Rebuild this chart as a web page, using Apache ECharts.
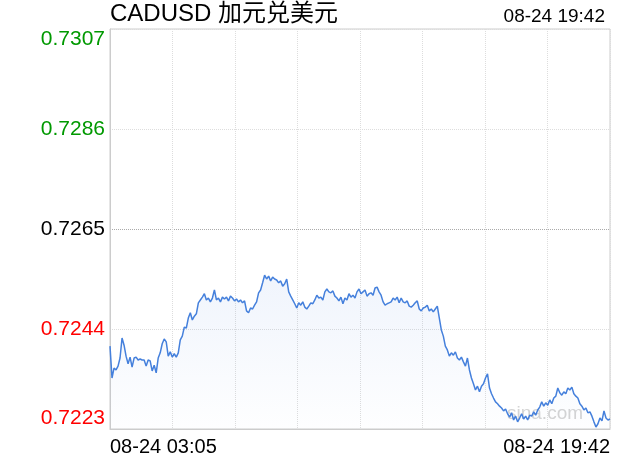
<!DOCTYPE html>
<html>
<head>
<meta charset="utf-8">
<script src="https://cdn.jsdelivr.net/npm/echarts@6/dist/echarts.min.js"></script>
<style>
  html, body { margin: 0; padding: 0; background: #fff; }
  #chart { width: 620px; height: 460px; }
</style>
</head>
<body>
<div id="chart"></div>
<script>
// ---- data ----
const titleText = 'CADUSD 加元兑美元';
const timeStamp = '08-24 19:42';
const xTickLabels = ['08-24 03:05', '08-24 19:42'];
const yTicks = [0.7223, 0.7244, 0.7265, 0.7286, 0.7307];
const prevClose = 0.7265;
const prices = [
  0.72404, 0.72337, 0.72358, 0.72354, 0.72362, 0.72379, 0.72421, 0.72406, 0.72383, 0.72367,
  0.72381, 0.72360, 0.72379, 0.72381, 0.72375, 0.72377, 0.72375, 0.72375, 0.72362, 0.72375,
  0.72373, 0.72352, 0.72364, 0.72348, 0.72379, 0.72390, 0.72409, 0.72419, 0.72413, 0.72383,
  0.72392, 0.72381, 0.72388, 0.72381, 0.72390, 0.72417, 0.72425, 0.72444, 0.72442, 0.72463,
  0.72474, 0.72459, 0.72467, 0.72472, 0.72495, 0.72501, 0.72507, 0.72514, 0.72501, 0.72505,
  0.72497, 0.72505, 0.72522, 0.72501, 0.72505, 0.72497, 0.72507, 0.72503, 0.72507, 0.72499,
  0.72509, 0.72505, 0.72499, 0.72503, 0.72497, 0.72501, 0.72495, 0.72499, 0.72478, 0.72474,
  0.72484, 0.72482, 0.72490, 0.72497, 0.72516, 0.72522, 0.72537, 0.72553, 0.72545, 0.72551,
  0.72541, 0.72549, 0.72545, 0.72543, 0.72537, 0.72541, 0.72530, 0.72535, 0.72545, 0.72518,
  0.72509, 0.72501, 0.72493, 0.72484, 0.72495, 0.72490, 0.72497, 0.72486, 0.72482, 0.72488,
  0.72495, 0.72493, 0.72501, 0.72511, 0.72505, 0.72507, 0.72501, 0.72518, 0.72524, 0.72518,
  0.72516, 0.72520, 0.72509, 0.72505, 0.72499, 0.72507, 0.72493, 0.72505, 0.72501, 0.72514,
  0.72507, 0.72511, 0.72505, 0.72518, 0.72524, 0.72514, 0.72518, 0.72522, 0.72509, 0.72514,
  0.72516, 0.72511, 0.72526, 0.72528, 0.72518, 0.72511, 0.72497, 0.72490, 0.72493, 0.72495,
  0.72497, 0.72505, 0.72501, 0.72507, 0.72495, 0.72505, 0.72497, 0.72495, 0.72499, 0.72488,
  0.72486, 0.72490, 0.72495, 0.72499, 0.72482, 0.72478, 0.72484, 0.72486, 0.72490, 0.72478,
  0.72482, 0.72476, 0.72482, 0.72488, 0.72463, 0.72438, 0.72425, 0.72404, 0.72396, 0.72383,
  0.72390, 0.72385, 0.72392, 0.72379, 0.72375, 0.72381, 0.72371, 0.72362, 0.72379, 0.72354,
  0.72337, 0.72325, 0.72312, 0.72320, 0.72308, 0.72320, 0.72325, 0.72337, 0.72346, 0.72316,
  0.72304, 0.72295, 0.72287, 0.72283, 0.72278, 0.72274, 0.72268, 0.72272, 0.72262, 0.72255,
  0.72264, 0.72249, 0.72257, 0.72245, 0.72253, 0.72262, 0.72251, 0.72257, 0.72249, 0.72259,
  0.72257, 0.72266, 0.72259, 0.72270, 0.72276, 0.72287, 0.72278, 0.72285, 0.72280, 0.72291,
  0.72283, 0.72295, 0.72299, 0.72316, 0.72306, 0.72301, 0.72308, 0.72304, 0.72316, 0.72312,
  0.72318, 0.72304, 0.72299, 0.72295, 0.72283, 0.72278, 0.72270, 0.72274, 0.72264, 0.72266,
  0.72257, 0.72245, 0.72234, 0.72241, 0.72253, 0.72247, 0.72268, 0.72253, 0.72249, 0.72251
];

// ---- chart ----
const lastIndex = prices.length - 1;
const seriesData = prices.map((v, i) => [i, v]);
const FONT = '"Liberation Sans", Arial, "Noto Sans CJK SC", sans-serif';

const chart = echarts.init(document.getElementById('chart'), null, { renderer: 'canvas' });
chart.setOption({
  animation: false,
  backgroundColor: '#fff',
  title: [
    { text: titleText, left: 110, top: 2, padding: 0,
      textStyle: { fontSize: 24, fontWeight: 'normal', color: '#000', fontFamily: FONT } },
    { text: timeStamp, right: 15, top: 7, padding: 0,
      textStyle: { fontSize: 19, fontWeight: 'normal', color: '#000', fontFamily: FONT } }
  ],
  grid: { left: 110, right: 10, top: 29, bottom: 31, show: true, borderColor: '#cccccc', borderWidth: 1, containLabel: false },
  xAxis: {
    type: 'value', min: 0, max: lastIndex, interval: lastIndex / 8,
    axisLine: { show: true, lineStyle: { color: '#cccccc' } },
    axisTick: { show: false },
    splitLine: { show: true, lineStyle: { color: '#dddddd', type: 'dotted', width: 1 } },
    axisLabel: {
      show: true, margin: 8, fontSize: 20, color: '#000', fontFamily: FONT,
      alignMinLabel: 'left', alignMaxLabel: 'right',
      formatter: function (v) {
        if (Math.abs(v) < 1e-6) return xTickLabels[0];
        if (Math.abs(v - lastIndex) < 1e-6) return xTickLabels[1];
        return '';
      }
    }
  },
  yAxis: {
    type: 'value', min: yTicks[0], max: yTicks[yTicks.length - 1],
    axisLine: { show: true, lineStyle: { color: '#cccccc' } },
    axisTick: { show: false, customValues: yTicks },
    splitLine: { show: true, lineStyle: { color: ['#dddddd', '#dddddd', '#aaaaaa', '#dddddd', '#dddddd'], type: 'dotted', width: 1 } },
    axisLabel: {
      customValues: yTicks,
      margin: 5, fontSize: 21, fontFamily: FONT,
      verticalAlignMinLabel: 'bottom', verticalAlignMaxLabel: 'top',
      formatter: function (v) { return v.toFixed(4); },
      color: function (v) {
        const val = typeof v === 'string' ? parseFloat(v) : v;
        if (Math.abs(val - prevClose) < 1e-6) return '#000000';
        return val > prevClose ? '#009900' : '#ff0000';
      }
    }
  },
  graphic: [
    { type: 'text', left: 507, top: 404, z: 0,
      style: { text: 'sina.com', fontSize: 19, fill: '#d4d4d4', fontFamily: FONT } }
  ],
  series: [{
    type: 'line',
    data: seriesData,
    showSymbol: false,
    symbol: 'none',
    lineStyle: { color: '#4580dc', width: 1.5 },
    areaStyle: {
      origin: 'start',
      color: new echarts.graphic.LinearGradient(0, 0, 0, 1, [
        { offset: 0, color: 'rgba(90,140,225,0.13)' },
        { offset: 1, color: 'rgba(90,140,225,0.01)' }
      ])
    },
    z: 3
  }]
});
</script>
</body>
</html>
